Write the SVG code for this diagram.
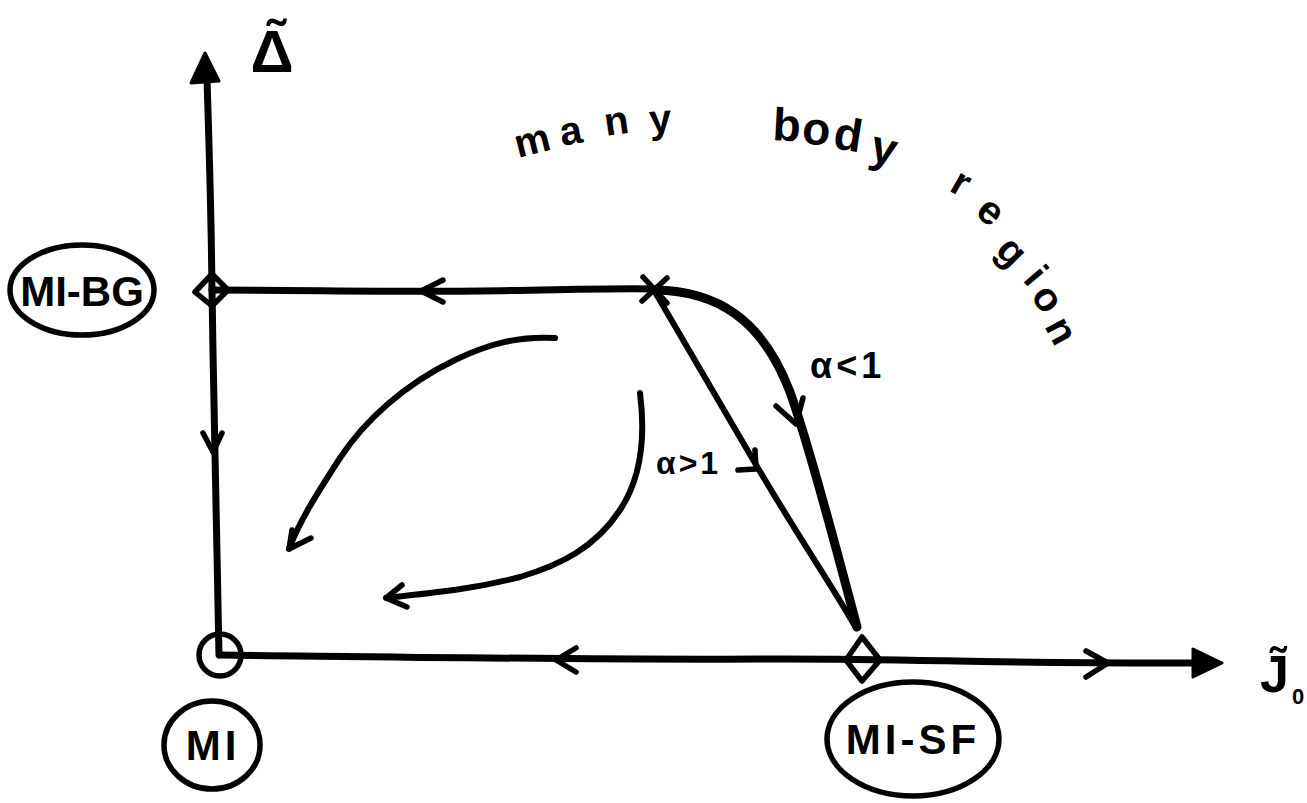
<svg xmlns="http://www.w3.org/2000/svg" width="1307" height="803" viewBox="0 0 1307 803">
<style>
.ln{fill:none;stroke:#000;stroke-linecap:round;stroke-linejoin:round}
.ax{stroke-width:7}
.thk{stroke-width:9}
.med{stroke-width:6}
.ch{fill:none;stroke:#000;stroke-width:5.5;stroke-linecap:round;stroke-linejoin:round}
.head{fill:#000;stroke:#000;stroke-width:3;stroke-linejoin:round}
.lbl{font-family:"Liberation Sans","DejaVu Sans",sans-serif;font-weight:bold;fill:#000}
.sym{font-family:"Liberation Sans","DejaVu Sans",sans-serif;font-weight:bold;fill:#000}
.ell{fill:none;stroke:#000;stroke-width:5.5}
</style>
<rect width="1307" height="803" fill="#fff"/>

<g id="connectors">
  <!-- vertical axis -->
  <path class="ln ax" d="M219,655 C217,560 214,420 212,290 C211,200 209,140 207,80"/>
  <polygon class="head" points="205,53 191,83 219,81"/>
  <polyline class="ch" points="203,433 213,452 222,433"/>
  <!-- horizontal axis -->
  <path class="ln ax" d="M220,655 C400,657 600,660 760,659 C900,658 1000,664 1195,663"/>
  <polygon class="head" points="1222,663 1193,649 1193,677"/>
  <polyline class="ch" points="576,648 556,660 576,672"/>
  <polyline class="ch" points="1086,651 1108,663 1086,677"/>
  <!-- top horizontal line MI-BG to X -->
  <path class="ln ax" d="M212,290 C300,290 400,292 480,291 C560,290 610,288 655,289"/>
  <polyline class="ch" points="443,280 421,291 443,302"/>
  <!-- alpha<1 curve -->
  <path class="ln thk" d="M655,290 C716,291 762,318 790,392 C806,436 832,532 857,627"/>
  <polyline class="ch" points="776,406 796,424 803,398"/>
  <!-- alpha>1 line -->
  <path class="ln med" d="M655,292 L752,458 C800,540 835,590 856,628"/>
  <polyline class="ch" points="738,470 756,469 755,450"/>
  <!-- flow arrows -->
  <path class="ln med" d="M555,338 C520,336 490,343 455,360 C405,384 365,420 340,458 C318,492 300,520 289,549"/>
  <polyline class="ch" points="292,530 289,549 311,538"/>
  <path class="ln med" d="M640,393 C646,440 640,480 620,510 C595,548 560,565 520,577 C470,590 430,593 386,598"/>
  <polyline class="ch" points="402,585 386,598 407,607"/>
</g>

<g id="node-origin">
  <circle cx="220" cy="655" r="21" fill="none" stroke="#000" stroke-width="5.5"/>
</g>
<g id="node-bg-point">
  <polygon points="212,274 228,290 212,306 195,292" fill="none" stroke="#000" stroke-width="5.5" stroke-linejoin="round"/>
</g>
<g id="node-sf-point">
  <polygon points="862,637 880,660 862,681 846,660" fill="none" stroke="#000" stroke-width="5.5" stroke-linejoin="round"/>
</g>
<g id="node-fixed-x">
  <path class="ln" stroke-width="5.5" d="M643,277 L667,303 M642,301 L667,278"/>
</g>

<g id="node-MI-BG">
  <ellipse class="ell" cx="82" cy="290" rx="72" ry="45"/>
  <text class="lbl" x="82" y="306" font-size="42" text-anchor="middle">MI-BG</text>
</g>
<g id="node-MI">
  <ellipse class="ell" cx="212" cy="745" rx="48" ry="44"/>
  <text class="lbl" x="213" y="760" font-size="42" text-anchor="middle" letter-spacing="4">MI</text>
</g>
<g id="node-MI-SF">
  <ellipse class="ell" cx="913" cy="739" rx="86" ry="57"/>
  <text class="lbl" x="913" y="754" font-size="42" text-anchor="middle" letter-spacing="4">MI-SF</text>
</g>

<g id="labels">
  <text class="sym" x="272" y="72" font-size="60" text-anchor="middle">Δ̃</text>
  <text class="sym" x="1260" y="692" font-size="52">J̃<tspan x="1292" y="704" font-size="22">0</tspan></text>
  <text class="lbl" font-size="40" x="518 562 606 650" y="158 146 136 133" rotate="-14 -10 -8 -4">many</text>
  <text class="lbl" font-size="46" x="772 801 832 868" y="140 143 148 160" rotate="3 6 9 14">body</text>
  <text class="lbl" font-size="40" x="948 974 994 1022 1030 1044" y="190 214 252 280 296 326" rotate="30 40 45 50 55 62">region</text>
  <text class="lbl" font-size="36" x="810" y="378" letter-spacing="4">α&lt;1</text>
  <text class="lbl" font-size="32" x="656" y="474" letter-spacing="3">α&gt;1</text>
</g>
</svg>
